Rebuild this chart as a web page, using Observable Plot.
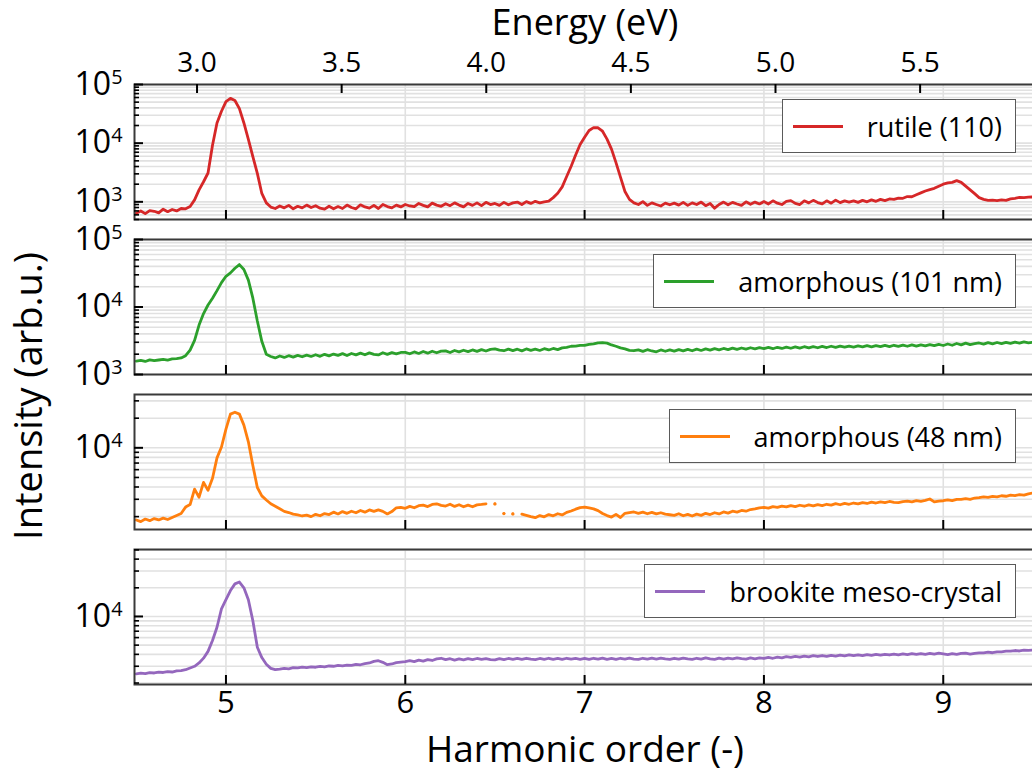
<!DOCTYPE html>
<html>
<head>
<meta charset="utf-8">
<script src="https://cdn.jsdelivr.net/npm/d3@7"></script>
<script src="https://cdn.jsdelivr.net/npm/@observablehq/plot@0.6"></script>
<style>
  body { margin: 0; background: #fff; }
  #fig { position: relative; width: 1032px; height: 776px; overflow: hidden; background: #fff;
         font-family: "Open Sans", sans-serif; color: #000; }
  #fig svg { position: absolute; left: 0; }
  .title { position: absolute; font-size: 37px; line-height: 1; white-space: nowrap; }
  .legend { position: absolute; right: 16px; height: 54px; box-sizing: border-box;
            border: 1.5px solid #5a5a5a; background: #fff; display: flex; align-items: center;
            padding: 0 13px 0 10px; font-size: 27px; line-height: 1; white-space: nowrap; }
  .legend .swatch { display: inline-block; width: 50px; height: 3px; margin-right: 24px; }
</style>
</head>
<body>
<div id="fig"></div>
<script>
// Spectrometer sampling grid (harmonic order of the 0.62 eV fundamental)
const E0 = 0.62;
const harmonic = d3.range(202).map(i => Math.round((4.5 + 0.025 * i) * 1000) / 1000);
const harmonicTicks = [5, 6, 7, 8, 9];
const energyTicks = [3.0, 3.5, 4.0, 4.5, 5.0, 5.5];

// Measured intensities (arb.u.), one value per grid point
const rutile = [
  640, 700, 630, 710, 690, 650, 750, 680, 740, 700, 770, 760, 830, 1080, 1600, 2200, 3100, 9250, 22100, 35000,
  51000, 58000, 53400, 38700, 22100, 11600, 5900, 3050, 1390, 960, 815, 770, 850, 790, 870, 760, 840, 790, 880, 800,
  860, 780, 750, 840, 760, 830, 770, 880, 800, 760, 890, 820, 780, 870, 770, 900, 830, 790, 880, 820,
  900, 850, 830, 940, 870, 820, 950, 880, 840, 930, 860, 960, 880, 820, 940, 870, 960, 860, 980, 900,
  940, 870, 980, 890, 960, 990, 900, 1010, 940, 1020, 960, 1000, 1030, 1180, 1400, 1800, 2700, 4050, 6300, 9500,
  12600, 16450, 18400, 18300, 16000, 11700, 7900, 4650, 2635, 1500, 1100, 960, 900, 1010, 870, 960, 900, 850, 950, 890,
  950, 880, 980, 870, 960, 900, 990, 860, 940, 780, 900, 990, 890, 980, 920, 870, 1000, 910, 990, 920,
  1010, 920, 1040, 950, 900, 1020, 1050, 940, 900, 1040, 960, 1060, 970, 920, 1040, 950, 1070, 970, 1040, 990,
  1040, 980, 1060, 1000, 1080, 1020, 1100, 1050, 1120, 1100, 1160, 1150, 1230, 1220, 1320, 1420, 1530, 1620, 1700, 1850,
  2000, 2100, 2150, 2300, 2150, 1850, 1600, 1380, 1180, 1100, 1060, 1070, 1050, 1080, 1060, 1120, 1150, 1190, 1180, 1200,
  1210, 1200
];
const amorphous101 = [
  1580, 1620, 1560, 1650, 1600, 1640, 1680, 1630, 1700, 1720, 1760, 1900, 2300, 3200, 5400, 8000, 10700, 13500, 17500, 23000,
  28500, 32000, 37500, 42500, 36000, 25000, 13500, 6200, 3100, 2000, 1850, 1760, 1880, 1790, 1900, 1810, 1920, 1830, 1940, 1850,
  1960, 1860, 1990, 1890, 2010, 1920, 2040, 1910, 2050, 1950, 2070, 1960, 2090, 1990, 1950, 2100, 1990, 2110, 2020, 2120,
  2130, 2030, 2160, 2050, 2190, 2070, 2210, 2100, 2220, 2240, 2120, 2270, 2160, 2290, 2180, 2310, 2200, 2340, 2230, 2360,
  2400, 2290, 2250, 2380, 2260, 2370, 2240, 2390, 2280, 2380, 2270, 2410, 2310, 2430, 2340, 2480, 2520, 2620, 2630, 2700,
  2700, 2800, 2840, 2950, 2960, 2920, 2740, 2620, 2480, 2400, 2280, 2250, 2310, 2200, 2330, 2230, 2170, 2310, 2210, 2320,
  2220, 2340, 2240, 2360, 2250, 2380, 2270, 2400, 2300, 2420, 2320, 2430, 2340, 2460, 2350, 2470, 2370, 2490, 2400, 2500,
  2420, 2520, 2410, 2530, 2430, 2550, 2450, 2570, 2460, 2580, 2480, 2590, 2490, 2610, 2510, 2620, 2520, 2630, 2540, 2640,
  2550, 2650, 2560, 2670, 2570, 2680, 2580, 2700, 2590, 2710, 2610, 2720, 2620, 2740, 2630, 2750, 2650, 2770, 2670, 2790,
  2690, 2830, 2710, 2880, 2750, 2910, 2770, 2860, 2930, 2820, 2960, 2850, 2980, 2870, 3000, 2890, 3020, 2920, 3040, 2950,
  3000, 3020
];
// null = no valid reading at that grid point
const amorphous48 = [
  1850, 1780, 1890, 1820, 1910, 1850, 1930, 1870, 1960, 2050, 2150, 2500, 2650, 3800, 3150, 4450, 3700, 4900, 7900, 10200,
  15500, 22000, 23000, 22000, 17000, 11500, 6600, 3950, 3250, 2950, 2700, 2550, 2400, 2260, 2200, 2120, 2080, 2030, 2070, 2000,
  2110, 2040, 2150, 2100, 2220, 2130, 2250, 2160, 2270, 2190, 2310, 2220, 2340, 2260, 2340, 2260, 2130, 2250, 2460, 2480,
  2430, 2540, 2460, 2580, 2620, 2530, 2660, 2700, 2600, 2560, 2670, 2540, 2640, 2520, 2620, 2520, 2630, 2660, 2700, null,
  2690, null, 2150, null, 2130, null, 2120, 2060, 2000, 1950, 2050, 1990, 2100, 2040, 2140, 2080, 2210, 2280, 2380, 2470,
  2500, 2450, 2400, 2300, 2150, 2050, 1980, 2110, 1960, 2160, 2200, 2230, 2160, 2220, 2140, 2210, 2130, 2190, 2120, 2090,
  2060, 2140, 2040, 2110, 2030, 2120, 2060, 2160, 2100, 2190, 2130, 2230, 2170, 2270, 2220, 2310, 2270, 2360, 2400, 2460,
  2480, 2440, 2530, 2480, 2560, 2510, 2590, 2530, 2610, 2550, 2630, 2570, 2650, 2590, 2670, 2620, 2710, 2640, 2730, 2670,
  2750, 2690, 2780, 2720, 2810, 2750, 2830, 2770, 2850, 2790, 2770, 2840, 2880, 2830, 2910, 2860, 2920, 3020, 2820, 2880,
  2900, 2960, 2910, 2990, 3000, 3050, 3000, 3090, 3120, 3180, 3140, 3210, 3170, 3260, 3220, 3300, 3270, 3350, 3310, 3410,
  3480, 3510
];
const brookite = [
  2500, 2540, 2510, 2570, 2550, 2600, 2580, 2630, 2610, 2680, 2700, 2760, 2880, 3000, 3250, 3650, 4300, 5600, 7700, 12000,
  15000, 18700, 22000, 23000, 20000, 15000, 9000, 4750, 3700, 3150, 2850, 2760, 2800, 2850, 2820, 2900, 2880, 2940, 2900, 2960,
  2930, 2990, 2960, 3020, 3000, 3060, 3030, 3090, 3070, 3140, 3110, 3200, 3250, 3380, 3430, 3300, 3120, 3170, 3280, 3320,
  3350, 3430, 3360, 3480, 3400, 3520, 3450, 3580, 3640, 3520, 3600, 3480, 3580, 3500, 3600, 3520, 3620, 3540, 3610, 3530,
  3500, 3600, 3520, 3620, 3540, 3630, 3550, 3640, 3560, 3520, 3620, 3540, 3640, 3550, 3630, 3540, 3640, 3560, 3620, 3550,
  3630, 3540, 3640, 3560, 3660, 3550, 3620, 3540, 3640, 3560, 3660, 3570, 3540, 3640, 3560, 3650, 3570, 3660, 3580, 3550,
  3640, 3560, 3660, 3580, 3540, 3640, 3570, 3670, 3580, 3550, 3650, 3570, 3660, 3590, 3680, 3600, 3570, 3670, 3590, 3680,
  3620, 3710, 3640, 3740, 3670, 3780, 3710, 3810, 3740, 3840, 3770, 3870, 3800, 3890, 3820, 3910, 3840, 3930, 3860, 3950,
  3880, 3960, 3890, 3980, 3910, 4000, 3930, 4010, 3940, 4030, 3960, 4050, 3980, 4070, 4000, 4080, 4010, 4100, 4030, 4110,
  4040, 3980, 4070, 4000, 4090, 4120, 4030, 4100, 4150, 4140, 4220, 4160, 4250, 4250, 4320, 4320, 4390, 4340, 4420, 4400,
  4430, 4450
];

const sampleNames = ["rutile (110)", "amorphous (101 nm)", "amorphous (48 nm)", "brookite meso-crystal"];
const sampleColors = ["#d62728", "#2ca02c", "#ff7f0e", "#9467bd"];
const sampleSeries = [rutile, amorphous101, amorphous48, brookite];
const intensityDomains = [[500, 1e5], [1e3, 1e5], [1480, 34800], [1930, 50500]];

// ---- layout ----
const W = 1040, ML = 134, MR = 4, M = 60, FH = 135;
const FW = W - ML - MR;
const frameTops = [84, 239, 394, 549];
const fig = document.getElementById("fig");

function logTicks([lo, hi]) {
  const out = [];
  for (let e = Math.floor(Math.log10(lo)); e <= Math.ceil(Math.log10(hi)); e++)
    for (let m = 1; m <= 9; m++) {
      const v = m * 10 ** e;
      if (v >= lo * 0.999 && v <= hi * 1.001) out.push(v);
    }
  return out;
}

sampleSeries.forEach((values, p) => {
  const domain = intensityDomains[p];
  const color = sampleColors[p];
  const all = logTicks(domain);
  const major = all.filter(v => Math.abs(Math.log10(v) - Math.round(Math.log10(v))) < 1e-9);
  const minor = all.filter(v => !major.includes(v));
  const rows = harmonic.map((h, i) => ({h, v: values[i]}));
  const isolated = rows.filter((d, i) => d.v != null &&
    (i === 0 || rows[i - 1].v == null) && (i === rows.length - 1 || rows[i + 1].v == null));

  const marks = [
    Plot.ruleY(all, {stroke: "#e1e1e1", strokeWidth: 1.6}),
    Plot.ruleX(harmonicTicks, {stroke: "#e1e1e1", strokeWidth: 1.6}),
    Plot.line(rows, {x: "h", y: "v", stroke: color, strokeWidth: 2.8, clip: true}),
    Plot.dot(isolated, {x: "h", y: "v", r: 1.6, fill: color, clip: true}),
    Plot.frame({stroke: "#3a3a3a", strokeWidth: 2}),
    Plot.tickY(major, {y: d => d, insetRight: FW - 9, stroke: "#000", strokeWidth: 2}),
    Plot.tickY(minor, {y: d => d, insetRight: FW - 5, stroke: "#000", strokeWidth: 1.6}),
    Plot.tickX(harmonicTicks, {x: d => d, insetTop: FH - 9, stroke: "#000", strokeWidth: 2}),
    Plot.axisY({ticks: major, tickSize: 0, tickPadding: 12, fontSize: 32, label: null,
                tickFormat: d => `10^${Math.round(Math.log10(d))}`})
  ];
  if (p === 0) {
    marks.push(
      Plot.tickX(energyTicks, {x: e => e / E0, insetBottom: FH - 9, stroke: "#000", strokeWidth: 2}),
      Plot.axisX({anchor: "top", ticks: energyTicks.map(e => e / E0), tickSize: 0, tickPadding: 13,
                  fontSize: 28, label: null, tickFormat: d => (d * E0).toFixed(1)})
    );
  }
  if (p === sampleSeries.length - 1) {
    marks.push(Plot.axisX({anchor: "bottom", ticks: harmonicTicks, tickSize: 0, tickPadding: 6,
                           fontSize: 31, label: null, tickFormat: d => String(d)}));
  }

  const svg = Plot.plot({
    width: W, height: FH + 2 * M,
    marginLeft: ML, marginRight: MR, marginTop: M, marginBottom: M,
    x: {domain: [4.49, 9.52], axis: null},
    y: {type: "log", domain, axis: null},
    style: {background: "transparent", maxWidth: "none", overflow: "visible",
            fontFamily: "'Open Sans', sans-serif", color: "#000"},
    marks
  });
  svg.style.top = (frameTops[p] - M) + "px";

  // exponent labels: 10^n -> 10 with raised n
  d3.select(svg).selectAll("text").each(function () {
    const m = /^10\^(\d+)$/.exec(this.textContent);
    if (!m) return;
    const t = d3.select(this).text("10");
    t.append("tspan").attr("dy", "-0.55em").attr("font-size", "0.62em").text(m[1]);
  });
  fig.appendChild(svg);

  const legend = document.createElement("div");
  legend.className = "legend";
  legend.style.top = (frameTops[p] + 15) + "px";
  const sw = document.createElement("span");
  sw.className = "swatch";
  sw.style.background = color;
  const lab = document.createElement("span");
  lab.textContent = sampleNames[p];
  legend.append(sw, lab);
  fig.appendChild(legend);
});

function addTitle(text, css) {
  const d = document.createElement("div");
  d.className = "title";
  d.textContent = text;
  Object.assign(d.style, css);
  fig.appendChild(d);
}
addTitle("Energy (eV)", {left: "385px", width: "400px", textAlign: "center", top: "4px", fontSize: "36px"});
addTitle("Harmonic order (-)", {left: "335px", width: "500px", textAlign: "center", top: "729px"});
addTitle("Intensity (arb.u.)", {left: "27px", top: "396px", fontSize: "38px",
                                 transform: "translate(-50%, -50%) rotate(-90deg)"});
</script>
</body>
</html>
